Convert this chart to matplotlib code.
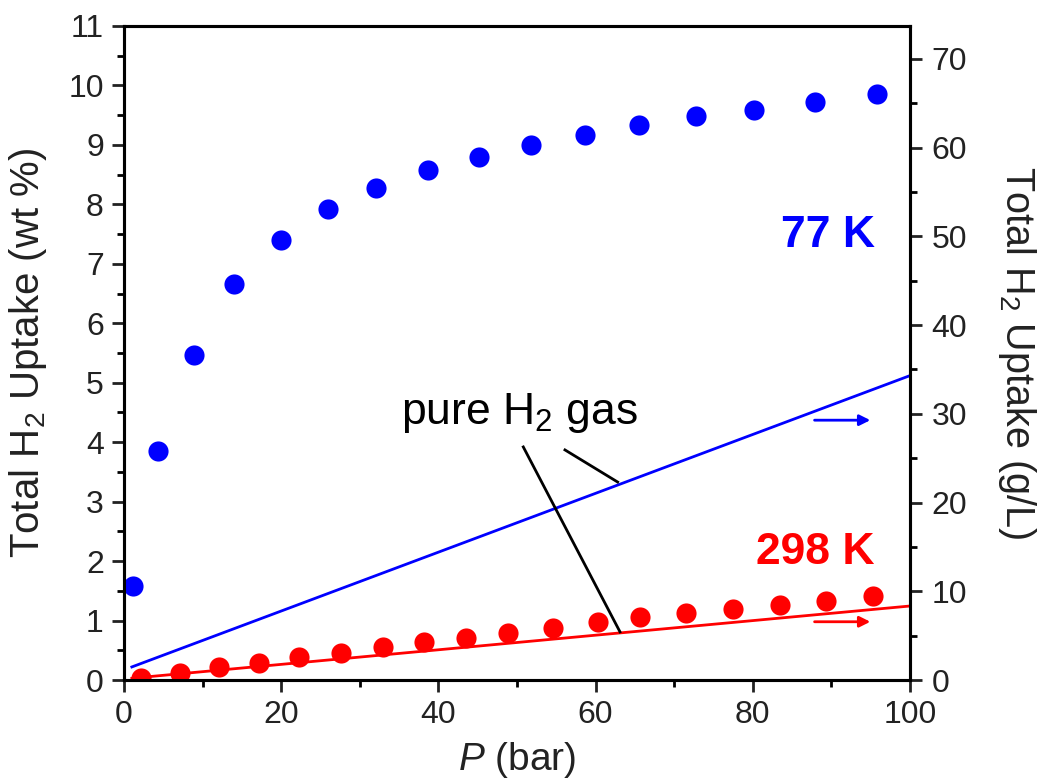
import matplotlib.pyplot as plt
from matplotlib.ticker import MultipleLocator

plt.rcParams['font.family'] = ['Liberation Sans', 'DejaVu Sans']
plt.rcParams['mathtext.fontset'] = 'custom'
plt.rcParams['mathtext.rm'] = 'Liberation Sans'
plt.rcParams['mathtext.it'] = 'Liberation Sans:italic'

# 77 K uptake (wt %)
p77 = [1.2, 4.3, 8.9, 14.0, 20.0, 26.0, 32.1, 38.7, 45.2, 51.8, 58.6, 65.5, 72.8, 80.2, 87.9, 95.8]
w77 = [1.58, 3.85, 5.47, 6.66, 7.40, 7.92, 8.28, 8.58, 8.80, 9.00, 9.17, 9.34, 9.49, 9.59, 9.72, 9.86]

# 298 K uptake (wt %)
p298 = [2.2, 7.1, 12.1, 17.2, 22.3, 27.6, 32.9, 38.2, 43.5, 48.9, 54.6, 60.3, 65.6, 71.5, 77.5, 83.5, 89.3, 95.3]
w298 = [0.04, 0.12, 0.22, 0.29, 0.39, 0.45, 0.56, 0.64, 0.71, 0.79, 0.87, 0.97, 1.06, 1.13, 1.19, 1.26, 1.33, 1.41]

# pure H2 gas lines (wt % scale)
gas_p = [1.0, 100.0]
gas77 = [0.22, 5.12]
gas298 = [0.03, 1.245]

fig = plt.figure(figsize=(10.41, 7.82), dpi=100)
ax = fig.add_axes([0.1191, 0.1304, 0.7551, 0.8364])

ax.plot(gas_p, gas77, color='#0000ff', lw=2, zorder=2)
ax.plot(gas_p, gas298, color='#ff0000', lw=2, zorder=2)
ax.plot(p77, w77, 'o', color='#0000ff', ms=14.5, mec='none', zorder=3)
ax.plot(p298, w298, 'o', color='#ff0000', ms=14.5, mec='none', zorder=3)

ax.set_xlim(0, 100)
ax.set_ylim(0, 11)
ax.xaxis.set_major_locator(MultipleLocator(20))
ax.xaxis.set_minor_locator(MultipleLocator(10))
ax.yaxis.set_major_locator(MultipleLocator(1))
ax.yaxis.set_minor_locator(MultipleLocator(0.5))
ax.tick_params(which='major', direction='out', length=8.5, width=2, labelsize=23, pad=6, colors='#222222')
ax.tick_params(which='minor', direction='out', length=5, width=2)
for s in ax.spines.values():
    s.set_linewidth(2.2)

ax.set_xlabel(r'$\mathit{P}$ (bar)', fontsize=28, color='#222222')
ax.xaxis.set_label_coords(0.5, -0.092)
ax.set_ylabel(r'Total H$_2$ Uptake (wt %)', fontsize=29, color='#222222')
ax.yaxis.set_label_coords(-0.096, 0.5)

# right axis in g/L
ax2 = ax.twinx()
ax2.set_ylim(0, 11 * 6.7)
ax2.yaxis.set_major_locator(MultipleLocator(10))
ax2.yaxis.set_minor_locator(MultipleLocator(5))
ax2.tick_params(which='major', direction='out', length=8.5, width=2, labelsize=23, pad=7, colors='#222222')
ax2.tick_params(which='minor', direction='out', length=5, width=2)
for s in ax2.spines.values():
    s.set_linewidth(2.2)
ax2.set_ylabel(r'Total H$_2$ Uptake (g/L)', fontsize=28.5, color='#222222', rotation=270, va='bottom')
ax2.yaxis.set_label_coords(1.109, 0.5)

# labels
ax.text(95.5, 7.47, '77 K', color='#0000ff', fontsize=32, fontweight='bold', ha='right', va='center')
ax.text(95.5, 2.15, '298 K', color='#ff0000', fontsize=32, fontweight='bold', ha='right', va='center')
ax.text(50.3, 4.49, r'pure H$_2$ gas', fontsize=32, ha='center', va='center')
ax.plot([56.1, 62.8], [3.87, 3.33], color='k', lw=2)
ax.plot([50.8, 63.1], [3.92, 0.81], color='k', lw=2)

# arrows toward right axis
ax.annotate('', xy=(95.3, 4.37), xytext=(87.5, 4.37),
            arrowprops=dict(arrowstyle='-|>', color='#0000ff', lw=2, mutation_scale=16))
ax.annotate('', xy=(95.3, 0.98), xytext=(87.5, 0.98),
            arrowprops=dict(arrowstyle='-|>', color='#ff0000', lw=2, mutation_scale=16))

fig.savefig('out.png', dpi=100)
